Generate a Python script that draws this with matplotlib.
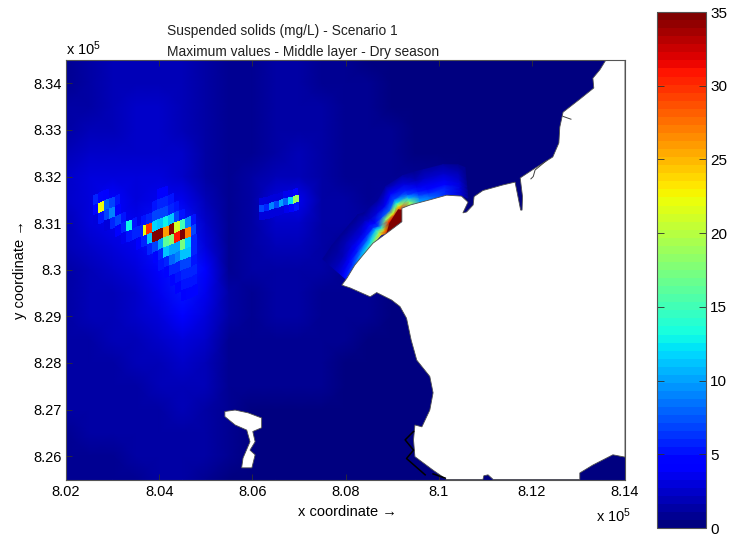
import numpy as np
import matplotlib
matplotlib.use('Agg')
import matplotlib.pyplot as plt
from matplotlib.colors import Normalize

plt.rcParams['font.family'] = ['Liberation Sans', 'DejaVu Sans']
plt.rcParams['mathtext.default'] = 'regular'

n = np.nan

# coarse field, rows top to bottom (x in units of 1e5)
field_x = [8.02, 8.025, 8.03, 8.035, 8.04, 8.045, 8.05, 8.055, 8.06, 8.065, 8.07, 8.075, 8.08,
           8.085, 8.09, 8.095, 8.10, 8.105, 8.11, 8.115, 8.12, 8.125, 8.13, 8.135, 8.14]
field_y = [8.345, 8.34, 8.335, 8.33, 8.325, 8.32, 8.315, 8.31, 8.305, 8.30,
           8.295, 8.29, 8.285, 8.28, 8.275, 8.27, 8.265, 8.26, 8.255]
field_values = [
    [1.0, 1.2, 1.8, 2.0, 2.0, 2.0, 1.5, 0.8, 0.7, 1.2, 1.3, 1.0, 0.9, 0.5, 0.5, 0.4, 0.3, 0.2, 0.1, 0.1, 0, 0, 0, 0, 0],
    [1.0, 1.2, 1.9, 2.0, 2.0, 2.0, 1.5, 0.8, 0.7, 1.2, 1.3, 1.0, 0.9, 0.6, 0.5, 0.4, 0.3, 0.2, 0.1, 0.1, 0, 0, 0, 0, 0],
    [1.2, 1.5, 2.0, 2.2, 2.2, 2.0, 1.5, 0.8, 0.7, 1.3, 1.4, 1.1, 0.9, 0.7, 0.5, 0.4, 0.3, 0.2, 0.1, 0.1, 0, 0, 0, 0, 0],
    [1.5, 1.8, 2.1, 2.3, 2.3, 2.1, 1.4, 0.7, 0.8, 1.4, 1.5, 1.2, 1.0, 0.8, 0.6, 0.4, 0.3, 0.2, 0.1, 0.1, 0, 0, 0, 0, 0],
    [2.0, 2.2, 2.4, 2.5, 2.5, 2.2, 1.4, 0.7, 0.9, 1.6, 1.7, 1.3, 1.0, 0.8, 0.6, 0.5, 0.4, 0.2, 0.1, 0.1, 0, 0, 0, 0, 0],
    [2.2, 3.0, 3.2, 2.8, 2.8, 2.5, 1.6, 0.7, 1.3, 2.0, 2.0, 1.4, 1.0, 0.9, 0.8, 0.8, 0.7, 0.3, 0.1, 0.1, 0, 0, 0, 0, 0],
    [2.2, 3.2, 4.0, 3.2, 3.8, 3.4, 1.8, 0.8, 1.5, 3.0, 3.5, 1.6, 1.1, 1.0, 1.3, 1.5, 1.0, 0.3, 0.1, 0, 0, 0, 0, 0, 0],
    [2.0, 2.8, 3.5, 3.5, 5.0, 5.0, 2.4, 0.8, 1.5, 2.5, 2.5, 1.5, 1.1, 1.1, 2.0, 2.0, 0.5, 0.2, 0, 0, 0, 0, 0, 0, 0],
    [1.8, 2.4, 3.0, 3.5, 5.0, 5.5, 3.0, 0.9, 1.3, 2.0, 2.0, 1.3, 1.0, 1.3, 2.0, 0, 0, 0, 0, 0, 0, 0, 0, 0, 0],
    [1.6, 2.0, 2.4, 3.0, 4.0, 5.5, 4.0, 1.0, 1.1, 1.6, 1.5, 1.2, 0.9, 1.3, 0, 0, 0, 0, 0, 0, 0, 0, 0, 0, 0],
    [1.5, 1.8, 2.0, 2.6, 3.5, 5.0, 3.5, 1.1, 1.0, 1.4, 1.3, 1.0, 0.8, 0.8, 0, 0, 0, 0, 0, 0, 0, 0, 0, 0, 0],
    [1.5, 1.7, 1.9, 2.2, 3.0, 4.0, 3.0, 1.1, 1.0, 1.2, 1.1, 0.9, 0.7, 0.6, 0.5, 0, 0, 0, 0, 0, 0, 0, 0, 0, 0],
    [1.5, 1.6, 1.8, 2.0, 2.3, 2.8, 2.2, 1.0, 0.9, 1.0, 1.0, 0.8, 0.6, 0.5, 0.4, 0.3, 0, 0, 0, 0, 0, 0, 0, 0, 0],
    [1.4, 1.5, 1.6, 1.8, 2.0, 2.4, 2.0, 1.0, 0.8, 0.9, 0.8, 0.7, 0.5, 0.4, 0.3, 0.2, 0, 0, 0, 0, 0, 0, 0, 0, 0],
    [1.3, 1.4, 1.5, 1.6, 1.7, 2.0, 1.8, 0.9, 0.7, 0.7, 0.7, 0.6, 0.5, 0.3, 0.2, 0.1, 0, 0, 0, 0, 0, 0, 0, 0, 0],
    [1.2, 1.3, 1.3, 1.4, 1.5, 1.7, 1.5, 0.8, 0.5, 0.5, 0.5, 0.5, 0.3, 0.2, 0.2, 0.1, 0, 0, 0, 0, 0, 0, 0, 0, 0],
    [1.0, 1.1, 1.2, 1.3, 1.4, 1.6, 1.2, 0.7, 0.4, 0.4, 0.4, 0.4, 0.3, 0.2, 0.1, 0.1, 0, 0, 0, 0, 0, 0, 0, 0, 0],
    [0.8, 0.9, 1.0, 1.1, 1.3, 1.5, 1.1, 0.6, 0.3, 0.3, 0.3, 0.3, 0.2, 0.1, 0.1, 0, 0, 0, 0, 0, 0, 0, 0, 0, 0],
    [0.7, 0.8, 0.9, 1.0, 1.2, 1.4, 1.0, 0.5, 0.3, 0.3, 0.3, 0.2, 0.2, 0.1, 0.1, 0, 0, 0, 0, 0, 0, 0, 0, 0, 0],
]

# blocky dredging plume cells
main_cells = [
    [n, n, n, n, 4, 4, n, n, n, n, n],
    [n, n, n, 5, 6, 5.5, 5, n, n, n, n],
    [n, 5, 6, 7, 7, 7, 6, 5, n, n, n],
    [n, 22, 30, 12, 11, 13, 11, 7, 5, n, n],
    [4, 6, 11, 35, 35, 26, 35, 21, 15, 9, 5],
    [n, n, 6, 7, 10, 16, 18, 31, 35, 27, 7],
    [n, n, n, 4.5, 6, 11, 10, 10, 17, 12, 6],
    [n, n, n, n, 5, 6, 8, 9, 11, 11, 6],
    [n, n, n, n, n, 4.5, 5.5, 6, 7, 7, 5],
    [n, n, n, n, n, n, 4.5, 5, 5.5, 6, 5.5],
    [n, n, n, n, n, n, n, 4, 5, 5, 5],
    [n, n, n, n, n, n, n, n, 4, 4.5, 4.5],
]
left_cells = [
    [6, 4.5, 4, n, n, n, n, n, n],
    [4.5, 22, 8, 7, 5, n, n, n, n],
    [3, 5, 7, 9, 4, n, n, n, n],
    [n, n, 3, 6, 7, 5, n, n, n],
    [n, n, n, n, 4, 6, 13, 5, n],
    [n, n, n, n, n, 3.5, 5, 6, 6],
]
bar_cells = [
    [2.8, 3, 3, 3, 3.2, 3.5, 3.7, 4],
    [7, 6, 9, 7, 10, 8, 12, 19],
    [3, 3, 3, 3, 3.2, 3.5, 4, 5],
]

# plume hugging the coast: shore stations and values going offshore
shore_x = [8.0801, 8.0820, 8.0838, 8.0859, 8.0876, 8.0889, 8.0904, 8.0919, 8.0923,
           8.0939, 8.0960, 8.0981, 8.1016, 8.1048, 8.1063]
shore_y = [8.2980, 8.3008, 8.3030, 8.3055, 8.3075, 8.3079, 8.3092, 8.3105, 8.3124,
           8.3139, 8.3145, 8.3150, 8.3160, 8.3160, 8.3154]
shore_dir_x = [-.75, -.75, -.75, -.75, -.75, -.75, -.75, -.75, -.55, -.25, -.2, -.2, -.1, -.1, -.1]
shore_dir_y = [.65, .65, .65, .65, .65, .65, .65, .65, .83, .95, .98, .98, .99, .99, .99]
offshore = [0, .0008, .0016, .0024, .0034, .0048, .0066]
shore_values = [
    [5, 4, 3, 2.5, 2, 1.5, 1],
    [8, 6, 4, 3, 2, 1.5, 1],
    [12, 9, 6, 4, 3, 2, 1],
    [17, 12, 8, 5, 3, 2, 1],
    [24, 17, 11, 6, 4, 2, 1],
    [32, 25, 14, 7, 4, 2.5, 1],
    [35, 35, 30, 18, 7, 3, 1.2],
    [35, 35, 32, 22, 8, 3.5, 1.2],
    [35, 30, 22, 13, 7, 4, 1.2],
    [20, 17, 11, 7, 5, 3, 1.2],
    [10, 9, 7, 5, 3.5, 2, 1],
    [9, 8, 6, 4.5, 3.5, 2.5, 1.2],
    [6, 6, 5.5, 4.5, 3.5, 2.5, 1.2],
    [3, 3, 3, 3, 2.5, 1.8, .8],
    [1, 1, 1, 1, 1, 1, .8],
]

# saturated wedge against the shore
wedge_x = [8.0888, 8.0894, 8.0913, 8.0921, 8.0921]
wedge_y = [8.3078, 8.3100, 8.3130, 8.3128, 8.3103]
wedge_value = 35

# land outlines
land_x = [8.1359, 8.1346, 8.1331, 8.1333, 8.1303, 8.1267, 8.1260, 8.1258, 8.1245, 8.1207, 8.1175,
          8.1180, 8.1179, 8.1176, 8.1164, 8.1138, 8.1095, 8.1076, 8.1074, 8.1060, 8.1052, 8.1063,
          8.1049, 8.1017, 8.0981, 8.0939, 8.0921, 8.0921, 8.0889, 8.0859, 8.0838, 8.0820, 8.0803,
          8.0792, 8.0810, 8.0853, 8.0867, 8.0899, 8.0917, 8.0931, 8.0941, 8.0953, 8.0981, 8.0988,
          8.0981, 8.0964, 8.0949, 8.0946, 8.0949, 8.0988, 8.1017, 8.1095, 8.1097, 8.1106, 8.1117,
          8.1303, 8.1303, 8.1331, 8.1374, 8.14, 8.14]
land_y = [8.345, 8.3429, 8.3411, 8.3390, 8.3366, 8.3338, 8.3306, 8.3272, 8.3242, 8.3218, 8.3197,
          8.3157, 8.3128, 8.3128, 8.3188, 8.3182, 8.3170, 8.3157, 8.3139, 8.3124, 8.3122, 8.3145,
          8.3158, 8.3160, 8.3150, 8.3139, 8.3132, 8.3103, 8.3079, 8.3057, 8.3032, 8.3010, 8.2982,
          8.2967, 8.2961, 8.2942, 8.2951, 8.2935, 8.2921, 8.2896, 8.2849, 8.2806, 8.2771, 8.2736,
          8.2699, 8.2663, 8.2667, 8.2635, 8.2599, 8.2570, 8.255, 8.255, 8.2558, 8.2560, 8.255,
          8.255, 8.2564, 8.2581, 8.2603, 8.2598, 8.345]
island_x = [8.0541, 8.0563, 8.0591, 8.0620, 8.0620, 8.0601, 8.0606, 8.0595, 8.0606, 8.0599,
            8.0577, 8.0580, 8.0595, 8.0588, 8.0563, 8.0541]
island_y = [8.2696, 8.2699, 8.2693, 8.2682, 8.2661, 8.2653, 8.2631, 8.2613, 8.2603, 8.2575,
            8.2575, 8.2596, 8.2631, 8.2656, 8.2667, 8.2685]
shoal_x = [8.0946, 8.0928, 8.0946, 8.0931, 8.0971]
shoal_y = [8.2653, 8.2635, 8.2613, 8.2595, 8.2560]
shoal2_x = [8.0988, 8.1014]
shoal2_y = [8.2562, 8.2553]
jetty_x = [8.1230, 8.1207, 8.1203, 8.1198]
jetty_y = [8.3233, 8.3214, 8.3200, 8.3195]
pier_x = [8.1267, 8.1284]
pier_y = [8.3329, 8.3323]

x_ticks = [8.02, 8.04, 8.06, 8.08, 8.10, 8.12, 8.14]
x_labels = ['8.02', '8.04', '8.06', '8.08', '8.1', '8.12', '8.14']
y_ticks = [8.26, 8.27, 8.28, 8.29, 8.30, 8.31, 8.32, 8.33, 8.34]
y_labels = ['8.26', '8.27', '8.28', '8.29', '8.3', '8.31', '8.32', '8.33', '8.34']
bar_ticks = [0, 5, 10, 15, 20, 25, 30, 35]


def draw_cells(ax, values, first, u, v, **kw):
    """Draws a tilted block of cells; first is the centre of the top-left cell."""
    values = np.ma.masked_invalid(np.array(values, dtype=float))
    rows, cols = values.shape
    jj, ii = np.meshgrid(np.arange(rows + 1) - 0.5, np.arange(cols + 1) - 0.5, indexing='ij')
    X = first[0] + ii * u[0] + jj * v[0]
    Y = first[1] + ii * u[1] + jj * v[1]
    return ax.pcolormesh(X, Y, values, shading='flat', **kw)


cmap = plt.get_cmap('jet', 64)
norm = Normalize(0, 35)
mesh_style = {'cmap': cmap, 'norm': norm, 'rasterized': True}

fig = plt.figure(figsize=(7.33, 5.35), dpi=100)
ax = fig.add_axes([66 / 733, (535 - 479.5) / 535, 559 / 733, 419.5 / 535])

FX, FY = np.meshgrid(field_x, field_y)
field_mesh = ax.pcolormesh(FX, FY, np.array(field_values, dtype=float), shading='gouraud', **mesh_style)

# coastal plume
sx, sy = np.array(shore_x)[:, None], np.array(shore_y)[:, None]
dx, dy = np.array(shore_dir_x)[:, None], np.array(shore_dir_y)[:, None]
off = np.array(offshore)[None, :]
ax.pcolormesh(sx + dx * off, sy + dy * off, np.array(shore_values, dtype=float), shading='gouraud', **mesh_style)
ax.fill(wedge_x, wedge_y, color=cmap(norm(wedge_value)), linewidth=0, zorder=2)

# dredging plume blocks
draw_cells(ax, main_cells, (8.0354, 8.3142), (.00118, .0005), (.00004, -.00215), **mesh_style)
draw_cells(ax, left_cells, (8.0263, 8.3150), (.00118, .0005), (.00004, -.00215), **mesh_style)
draw_cells(ax, bar_cells, (8.0619, 8.3145), (.00105, .0003), (.0001, -.0015), **mesh_style)

# land goes on top of the field
ax.fill(land_x, land_y, facecolor='white', edgecolor='#505050', linewidth=0.6, zorder=3)
ax.fill(island_x, island_y, facecolor='white', edgecolor='#505050', linewidth=0.6, zorder=3)
ax.plot(shoal_x, shoal_y, color='black', linewidth=1.1, zorder=4)
ax.plot(shoal2_x, shoal2_y, color='black', linewidth=1.1, zorder=4)
ax.plot(jetty_x, jetty_y, color='#404040', linewidth=0.7, zorder=4)
ax.plot(pier_x, pier_y, color='#404040', linewidth=0.7, zorder=4)

ax.set_xlim(8.02, 8.14)
ax.set_ylim(8.255, 8.345)
ax.set_xticks(x_ticks)
ax.set_xticklabels(x_labels)
ax.set_yticks(y_ticks)
ax.set_yticklabels(y_labels)
ax.tick_params(direction='in', top=True, right=True, length=4, width=0.6, labelsize=10.5, color='#303030', pad=4)
ax.tick_params(axis='y', pad=3)
for spine in ax.spines.values():
    spine.set_color('#555555')
    spine.set_linewidth(0.8)
    spine.set_zorder(5)

# colorbar
cax = fig.add_axes([657 / 733, (535 - 528) / 535, 49 / 733, 516 / 535])
cb = fig.colorbar(field_mesh, cax=cax, ticks=bar_ticks, drawedges=False)
cb.ax.tick_params(direction='in', left=True, right=True, length=5, width=0.6, labelsize=11, pad=3, color='#303030')
cb.outline.set_edgecolor('#555555')
cb.outline.set_linewidth(0.8)

# texts
fig.text(167 / 733, 1 - 35 / 535, 'Suspended solids (mg/L) - Scenario 1', fontsize=9.9, color='#202020', va='baseline')
fig.text(167 / 733, 1 - 56 / 535, 'Maximum values - Middle layer - Dry season', fontsize=9.9, color='#202020', va='baseline')
fig.text(66 / 733, 1 - 55 / 535, 'x 10$^{5}$', fontsize=10.5, va='baseline')
fig.text(596 / 733, 1 - 522 / 535, 'x 10$^{5}$', fontsize=10.5, va='baseline')
fig.text(347 / 733, 1 - 512 / 535, 'x coordinate \u2192', fontsize=10.5, ha='center', va='center')
fig.text(20 / 733, 1 - 270 / 535, 'y coordinate \u2192', fontsize=10.5, ha='center', va='center', rotation=90)

fig.savefig('out.png', dpi=100)
plt.close(fig)
